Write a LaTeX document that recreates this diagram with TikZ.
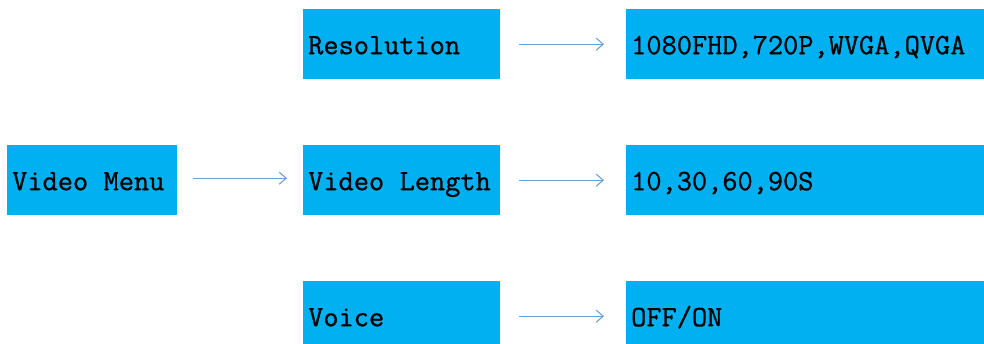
\documentclass[tikz,border=0pt]{standalone}
\usepackage{fontspec}
\setmonofont[FakeBold=0.8,FakeStretch=1.0]{Latin Modern Mono}
\usetikzlibrary{arrows.meta}
\definecolor{boxblue}{HTML}{00B0F0}
\definecolor{arrowblue}{HTML}{6A9FD8}
\newcommand\msp{\hspace*{0.525em}}
\tikzset{
  mbox/.style={rectangle, fill=boxblue, draw=none, anchor=north west, minimum height=70pt,
    text height=20pt, text depth=0pt, inner xsep=5pt, inner ysep=0pt, align=left,
    font=\ttfamily\fontsize{29.5pt}{29.5pt}\selectfont, text=black},
  conn/.style={draw=arrowblue, line width=1.1pt, -{Straight Barb[length=7pt,width=12pt]}}
}
\begin{document}
\begin{tikzpicture}[x=1pt,y=-1pt]
\useasboundingbox (0,0) rectangle (984,344);
\clip (0,0) rectangle (984,344);
\node[mbox, minimum width=170pt, text width=160pt] (menu) at (7,145) {Video\msp Menu};
\node[mbox, minimum width=197pt, text width=187pt] (res) at (303,9) {Resolution};
\node[mbox, minimum width=197pt, text width=187pt] (len) at (303,145) {Video\msp Length};
\node[mbox, minimum width=197pt, text width=187pt] (voice) at (303,281) {Voice};
\node[mbox, minimum width=360pt, text width=350pt] (resv) at (626,9) {1080FHD,720P,WVGA,QVGA};
\node[mbox, minimum width=360pt, text width=350pt] (lenv) at (626,145) {10,30,60,90S};
\node[mbox, minimum width=360pt, text width=350pt] (voicev) at (626,281) {OFF/ON};
\draw[conn, shorten <=16pt, shorten >=16pt] ([yshift=2pt]menu.east) -- ([yshift=2pt]len.west);
\draw[conn, shorten <=19pt, shorten >=22pt] (res) -- (resv);
\draw[conn, shorten <=19pt, shorten >=22pt] (len) -- (lenv);
\draw[conn, shorten <=19pt, shorten >=22pt] (voice) -- (voicev);
\end{tikzpicture}
\end{document}
